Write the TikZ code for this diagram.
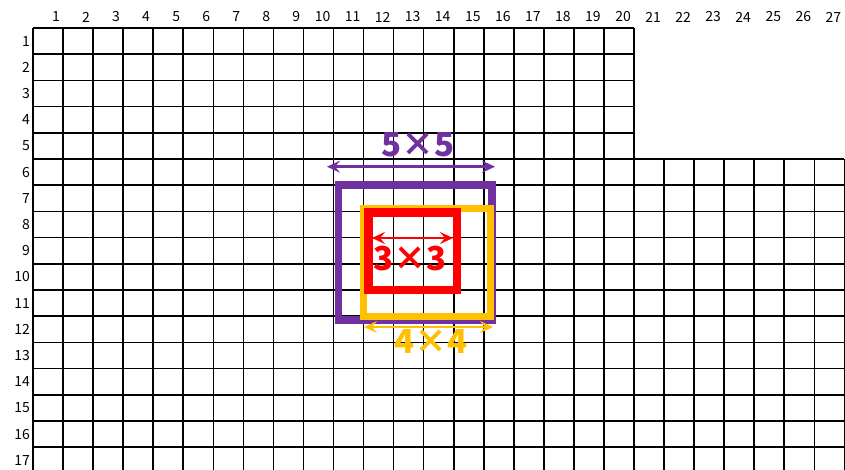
\documentclass[tikz,border=0pt]{standalone}
\usepackage{fontspec}
\setmainfont{Noto Sans CJK JP}
\usetikzlibrary{arrows.meta}
\definecolor{boxpurple}{HTML}{7030A0}
\definecolor{boxgold}{HTML}{FFC000}
\definecolor{boxred}{HTML}{FF0000}
\tikzset{>={Stealth[length=13pt,width=12pt,inset=5pt]}}
\tikzset{
  gridline/.style={black,line width=1.6pt},
  gridnum/.style={font=\fontsize{14}{14}\selectfont,inner sep=0pt,anchor=east},
  sizelabel/.style={font=\fontsize{33}{33}\selectfont\bfseries,inner sep=0pt},
  dimarrow/.style={<->,line width=2.8pt},
}

\begin{document}
\begin{tikzpicture}[x=1pt,y=-1pt]
  \def\W{30.05} % column width
  \def\H{26.2} % row height
  \def\X{33} % left edge of the grid
  \def\Y{28} % top edge of the grid
  \useasboundingbox (0,0) rectangle (845,469);
  \begin{scope}
    \clip (0,0) rectangle (845,469); % grid runs past the bottom
    \foreach \c in {0,...,27}{ % vertical lines
      \ifnum \c > 20
        \draw[gridline] (\X+\c*\W,\Y+5*\H) -- (\X+\c*\W,\Y+17*\H);
      \else
        \draw[gridline] (\X+\c*\W,\Y) -- (\X+\c*\W,\Y+17*\H);
      \fi
    }
    \foreach \r in {0,...,17}{ % horizontal lines
      \ifnum \r < 5
        \draw[gridline] (\X,\Y+\r*\H) -- (\X+20*\W,\Y+\r*\H);
      \else
        \draw[gridline] (\X,\Y+\r*\H) -- (\X+27*\W,\Y+\r*\H);
      \fi
    }
  \end{scope}
  \foreach \c in {1,...,27} % column numbers
    \node[gridnum] (col\c) at (\X+\c*\W-3,17) {\c};
  \foreach \r in {1,...,17} % row numbers
    \node[gridnum] (row\r) at (30,\Y+\r*\H-\H/2) {\r};
  % windows
  \draw[boxpurple,line width=7.5pt] (338.5,185) rectangle (492,320); % 5x5
  \draw[boxgold,line width=7pt] (363.5,208.5) rectangle (490.5,316.5); % 4x4
  \draw[boxred,line width=8.5pt] (368.5,212.5) rectangle (457,290); % 3x3
  % size arrows
  \coordinate (fivel) at (327,166.7);
  \coordinate (fiver) at (495,166.7);
  \coordinate (threel) at (372,238);
  \coordinate (threer) at (453,238);
  \coordinate (fourl) at (364,327);
  \coordinate (fourr) at (493,327);
  \draw[dimarrow,boxpurple] (fivel) -- (fiver);
  \draw[dimarrow,boxred] (threel) -- (threer);
  \draw[dimarrow,boxgold] (fourl) -- (fourr);
  \node[sizelabel,boxpurple] (five) at (418,145) {5×5};
  \node[sizelabel,boxred] (three) at (410,258.5) {3×3};
  \node[sizelabel,boxgold] (four) at (431,342) {4×4};
\end{tikzpicture}
\end{document}
